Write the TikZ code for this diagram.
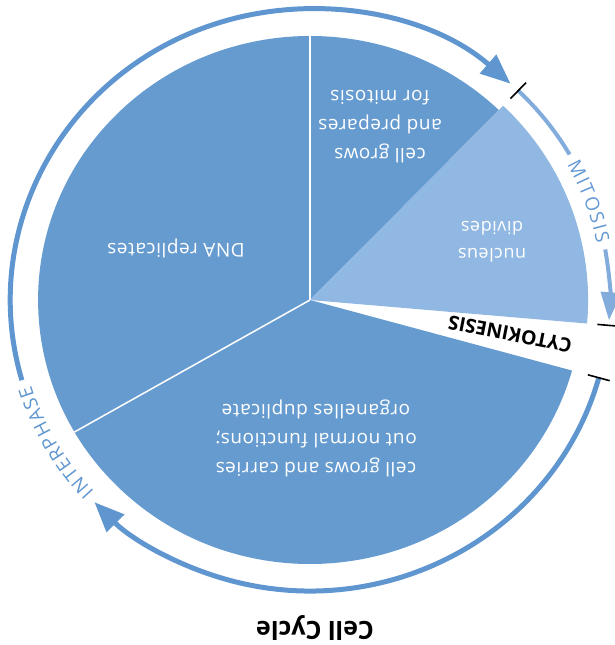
\documentclass[tikz,border=0pt]{standalone}
\usepackage{fontspec}
\setmainfont{Open Sans}
\newfontfamily\phasefont{Open Sans}[LetterSpace=3]
\usetikzlibrary{arrows.meta,decorations.text}

\definecolor{sectordark}{RGB}{102,155,208}
\definecolor{sectorlight}{RGB}{144,184,226}
\definecolor{ringdark}{RGB}{96,150,208}
\definecolor{ringlight}{RGB}{130,172,220}
\definecolor{mitosistext}{RGB}{100,152,212}

\tikzset{
  phasetext/.style={text=white, rotate=180, align=center, font=\phasefont\fontsize{19}{29}\selectfont},
  interring/.style={line width=5pt, draw=ringdark},
  mitring/.style={line width=4pt, draw=ringlight},
  tickmark/.style={line width=1.6pt, draw=black},
}

\begin{document}
\begin{tikzpicture}[x=1pt,y=1pt]
    \useasboundingbox (0,0) rectangle (615,645);
    \coordinate (C) at (310,345);

    \begin{scope}[shift={(C)}, x=1.03pt]
        % Pie: interphase part, then nucleus divides
        \fill[sectordark] (0,0) -- (46:264) arc[start angle=46, end angle=344.5, radius=264] -- cycle;
        \fill[sectorlight] (0,0) -- (-5:270) arc[start angle=-5, end angle=46, radius=270] -- cycle;
        \draw[white, line width=1.5pt] (0,0) -- (90:265);
        \draw[white, line width=1.5pt] (0,0) -- (210:265);

        % Interphase ring
        \draw[interring, -{Triangle[width=24pt,length=30pt]}] (-15.5:291) arc[start angle=-15.5, end angle=-136, radius=291];
        \draw[interring, -{Triangle[width=24pt,length=30pt]}] (196:291) arc[start angle=196, end angle=48, radius=291];
        \path[decorate, decoration={text along path, text align=fit to path, text color=ringdark,
            text={|\fontsize{19}{19}\selectfont|INTERPHASE}}]
            (222.5:284) arc[start angle=222.5, end angle=197.5, radius=284];

        % Mitosis ring
        \draw[mitring] (46:291) arc[start angle=46, end angle=30, radius=291];
        \draw[mitring, -{Triangle[width=20pt,length=28pt]}] (10:291) arc[start angle=10, end angle=-4, radius=291];
        \path[decorate, decoration={text along path, text align=fit to path, text color=mitosistext,
            text={|\fontsize{19}{19}\selectfont|MITOSIS}}]
            (28.5:284) arc[start angle=28.5, end angle=11.5, radius=284];

        % Phase marks
        \draw[tickmark] (46:280) -- (46:302);
        \draw[tickmark] (-5:280) -- (-5:302);
        \draw[tickmark] (-15.5:280) -- (-15.5:302);
    \end{scope}

    % Labels
    \node[phasetext] (prepmit) at (380,518) {cell grows\\and prepares\\for mitosis};
    \node[phasetext] (dnarep) at (176,397) {DNA replicates};
    \node[phasetext] (growfn) at (316,207) {cell grows and carries\\out normal functions;\\organelles duplicate};
    \node[phasetext, font=\phasefont\fontsize{18}{27}\selectfont] (nucdiv) at (492,403) {nucleus\\divides};
    \node[font=\bfseries\fontsize{19.5}{19.5}\selectfont, rotate=169] (cyto) at (510,311) {CYTOKINESIS};
    \node[font=\bfseries\fontsize{25}{25}\selectfont, rotate=180] (title) at (315,17) {Cell Cycle};
\end{tikzpicture}
\end{document}
